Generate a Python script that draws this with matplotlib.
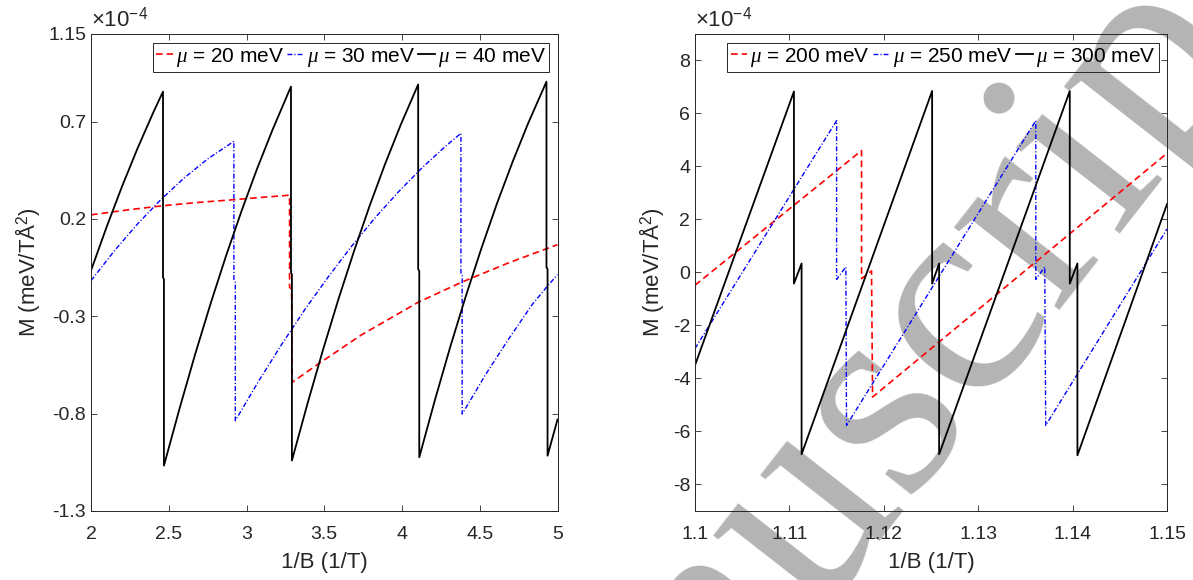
import matplotlib
matplotlib.use('Agg')
import matplotlib.pyplot as plt

plt.rcParams['font.family'] = ['Liberation Sans', 'DejaVu Sans']
plt.rcParams['axes.unicode_minus'] = False
plt.rcParams['mathtext.fontset'] = 'custom'
plt.rcParams['mathtext.rm'] = 'Liberation Sans'
plt.rcParams['mathtext.it'] = 'Liberation Serif:italic'

# ---- left panel: mu = 20, 30, 40 meV (M in units of 1e-4) ----
x20 = [2.0, 2.23, 2.463, 2.69, 2.919, 3.1, 3.277, 3.277, 3.29, 3.294,
       3.461, 3.74, 4.104, 4.383, 4.69, 5.0]
m20 = [0.221, 0.246, 0.268, 0.285, 0.299, 0.311, 0.322, -0.151, -0.16, -0.639,
       -0.545, -0.395, -0.228, -0.125, -0.024, 0.068]

x30 = [2.0, 2.15, 2.3, 2.45, 2.6, 2.75, 2.919, 2.919, 2.928, 2.928,
       3.078, 3.228, 3.378, 3.528, 3.678, 3.828, 3.978, 4.128, 4.278, 4.379,
       4.379, 4.387, 4.387, 4.537, 4.687, 4.837, 4.929, 5.0]
m30 = [-0.117, 0.036, 0.175, 0.300, 0.411, 0.508, 0.599, -0.117, -0.125, -0.836,
       -0.633, -0.442, -0.262, -0.095, 0.062, 0.207, 0.340, 0.462, 0.572, 0.640,
       -0.083, -0.09, -0.802, -0.60, -0.415, -0.24, -0.151, -0.086]

x40 = [2.0, 2.1, 2.2, 2.3, 2.4, 2.463, 2.463, 2.469, 2.469,
       2.569, 2.669, 2.769, 2.869, 2.969, 3.069, 3.169, 3.286, 3.286, 3.292, 3.292,
       3.392, 3.492, 3.592, 3.692, 3.792, 3.892, 3.992, 4.104, 4.104, 4.111, 4.111,
       4.211, 4.311, 4.411, 4.511, 4.611, 4.711, 4.811, 4.929, 4.929, 4.936, 4.936, 5.0]
m40 = [-0.065, 0.158, 0.368, 0.564, 0.746, 0.854, -0.10, -0.11, -1.067,
       -0.775, -0.497, -0.235, 0.012, 0.243, 0.460, 0.661, 0.880, -0.074, -0.085, -1.041,
       -0.749, -0.472, -0.210, 0.036, 0.268, 0.484, 0.684, 0.891, -0.057, -0.068, -1.024,
       -0.732, -0.455, -0.195, 0.050, 0.280, 0.493, 0.691, 0.905, -0.048, -0.058, -1.016, -0.83]

# ---- right panel: mu = 200, 250, 300 meV ----
x200 = [1.1, 1.11764, 1.11764, 1.1187, 1.11881, 1.15]
m200 = [-0.48, 4.60, -0.23, 0.06, -4.70, 4.50]

x250 = [1.1, 1.115, 1.115, 1.11598, 1.11605, 1.1361, 1.1361, 1.13705, 1.13715, 1.15]
m250 = [-2.87, 5.73, -0.26, 0.21, -5.77, 5.73, -0.26, 0.21, -5.77, 1.64]

x300 = [1.1, 1.11048, 1.11048, 1.11129, 1.11129, 1.12512, 1.12512, 1.12586, 1.12586,
        1.13970, 1.13970, 1.14051, 1.14051, 1.15]
m300 = [-3.50, 6.83, -0.42, 0.34, -6.86, 6.85, -0.42, 0.34, -6.86, 6.85, -0.42, 0.34, -6.90, 2.58]

left_xticks = [2, 2.5, 3, 3.5, 4, 4.5, 5]
left_xlabels = ['2', '2.5', '3', '3.5', '4', '4.5', '5']
left_yticks = [-1.3, -0.8, -0.3, 0.2, 0.7, 1.15]
left_ylabels = ['-1.3', '-0.8', '-0.3', '0.2', '0.7', '1.15']
right_xticks = [1.1, 1.11, 1.12, 1.13, 1.14, 1.15]
right_xlabels = ['1.1', '1.11', '1.12', '1.13', '1.14', '1.15']
right_yticks = [-8, -6, -4, -2, 0, 2, 4, 6, 8]
right_ylabels = ['-8', '-6', '-4', '-2', '0', '2', '4', '6', '8']

left_names = [r'$\mu$ = 20 meV', r'$\mu$ = 30 meV', r'$\mu$ = 40 meV']
right_names = [r'$\mu$ = 200 meV', r'$\mu$ = 250 meV', r'$\mu$ = 300 meV']

dark = '#262626'
red_ls = (0, (4, 2.4))
blue_ls = (0, (3.5, 1.5, 0.8, 1.5))

fig = plt.figure(figsize=(11.93, 5.8), dpi=100)
ax1 = fig.add_axes([0.07628, 0.11897, 0.39103, 0.82241])
ax2 = fig.add_axes([0.58257, 0.11897, 0.39564, 0.82241])

# watermark behind the (transparent) axes
fig.text(0.7494, 0.1190, 'Manuscript', rotation=52, rotation_mode='anchor', ha='center',
         va='baseline', fontsize=210, family='Liberation Serif', color='#b4b4b4', zorder=-1)


def style_axes(ax, xlim, ylim, xt, xl, yt, yl):
    ax.set_facecolor('none')
    ax.set_xlim(*xlim)
    ax.set_ylim(*ylim)
    ax.set_xticks(xt)
    ax.set_xticklabels(xl)
    ax.set_yticks(yt)
    ax.set_yticklabels(yl)
    ax.tick_params(direction='in', top=True, right=True, length=4, width=0.6,
                   color=dark, labelcolor=dark, labelsize=14)
    ax.tick_params(axis='x', pad=11)
    ax.tick_params(axis='y', pad=3.5)
    for s in ax.spines.values():
        s.set_color(dark)
        s.set_linewidth(0.7)
    ax.set_xlabel('1/B (1/T)', fontsize=16, color=dark, labelpad=6)
    ax.set_ylabel(r'M (meV/T$\mathregular{\AA}^2$)', fontsize=16, color=dark)
    ax.text(0.0, 1.0147, r'$\times$10$^{\mathregular{-4}}$', transform=ax.transAxes,
            ha='left', va='baseline', fontsize=16, color=dark)


def add_legend(ax, names, face):
    leg = ax.legend(names, ncol=3, loc='upper right', bbox_to_anchor=(0.982, 0.982),
                    borderaxespad=0, handlelength=0.8, handletextpad=0.15,
                    columnspacing=0.15, borderpad=0.15, fancybox=False,
                    edgecolor=dark, facecolor=face, framealpha=1, fontsize=15)
    leg.get_frame().set_linewidth(0.7)


ax1.plot(x20, m20, color='#ff0000', lw=1.2, ls=red_ls)
ax1.plot(x30, m30, color='#0000ff', lw=1.0, ls=blue_ls)
ax1.plot(x40, m40, color='black', lw=1.3)
style_axes(ax1, (2, 5), (-1.3, 1.15), left_xticks, left_xlabels, left_yticks, left_ylabels)
ax1.yaxis.set_label_coords(-0.105, 0.5)
add_legend(ax1, left_names, 'white')

ax2.plot(x200, m200, color='#ff0000', lw=1.2, ls=red_ls)
ax2.plot(x250, m250, color='#0000ff', lw=1.0, ls=blue_ls)
ax2.plot(x300, m300, color='black', lw=1.3)
style_axes(ax2, (1.1, 1.15), (-9, 9), right_xticks, right_xlabels, right_yticks, right_ylabels)
ax2.yaxis.set_label_coords(-0.062, 0.5)
add_legend(ax2, right_names, 'none')

fig.savefig('out.png', dpi=100)
